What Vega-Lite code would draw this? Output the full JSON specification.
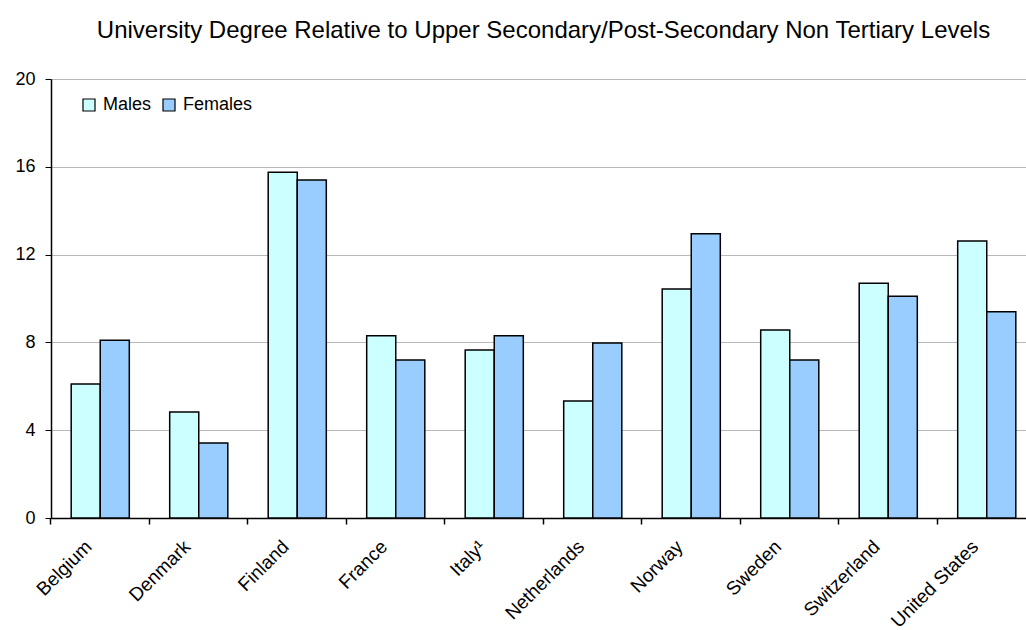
{
  "$schema": "https://vega.github.io/schema/vega-lite/v6.json",
  "autosize": {"type": "pad"},
  "padding": {"left": 14, "top": 19, "right": 0, "bottom": 0},
  "width": 985,
  "height": 439,
  "background": "white",
  "title": {
    "text": "University Degree Relative to Upper Secondary/Post-Secondary Non Tertiary Levels",
    "font": "Liberation Sans",
    "fontSize": 24,
    "fontWeight": "normal",
    "color": "black",
    "offset": 27
  },
  "config": {
    "view": {"stroke": null},
    "font": "Liberation Sans"
  },
  "data": {
    "values": [
      {"country": "Belgium", "sex": "Males", "value": 6.1},
      {"country": "Belgium", "sex": "Females", "value": 8.1},
      {"country": "Denmark", "sex": "Males", "value": 4.83},
      {"country": "Denmark", "sex": "Females", "value": 3.42},
      {"country": "Finland", "sex": "Males", "value": 15.75},
      {"country": "Finland", "sex": "Females", "value": 15.4},
      {"country": "France", "sex": "Males", "value": 8.3},
      {"country": "France", "sex": "Females", "value": 7.2},
      {"country": "Italy¹", "sex": "Males", "value": 7.65},
      {"country": "Italy¹", "sex": "Females", "value": 8.3},
      {"country": "Netherlands", "sex": "Males", "value": 5.33},
      {"country": "Netherlands", "sex": "Females", "value": 7.97},
      {"country": "Norway", "sex": "Males", "value": 10.43},
      {"country": "Norway", "sex": "Females", "value": 12.95},
      {"country": "Sweden", "sex": "Males", "value": 8.56},
      {"country": "Sweden", "sex": "Females", "value": 7.2},
      {"country": "Switzerland", "sex": "Males", "value": 10.7},
      {"country": "Switzerland", "sex": "Females", "value": 10.1},
      {"country": "United States", "sex": "Males", "value": 12.62},
      {"country": "United States", "sex": "Females", "value": 9.4}
    ]
  },
  "layer": [
    {
      "mark": {"type": "bar", "stroke": "black", "strokeWidth": 1.5},
      "encoding": {
        "x": {
          "field": "country",
          "type": "nominal",
          "sort": null,
          "scale": {"paddingInner": 0.41, "paddingOuter": 0.205},
          "axis": {
            "orient": "bottom",
            "title": null,
            "labelAngle": -45,
            "labelFontSize": 19,
            "labelColor": "black",
            "labelPadding": 19,
            "labelOffset": -18,
            "ticks": false,
            "domainColor": "black",
            "domainWidth": 1.5
          }
        },
        "xOffset": {"field": "sex", "type": "nominal", "sort": ["Males", "Females"], "scale": {"paddingInner": 0, "paddingOuter": 0}},
        "y": {
          "field": "value",
          "type": "quantitative",
          "scale": {"domain": [0, 20], "nice": false},
          "axis": {
            "title": null,
            "values": [0, 4, 8, 12, 16, 20],
            "labelFontSize": 18,
            "labelColor": "black",
            "labelPadding": 10,
            "tickColor": "black",
            "tickSize": 6,
            "domainColor": "black",
            "domainWidth": 1.5,
            "gridColor": "#b8b8b8",
            "gridWidth": 1.2
          }
        },
        "fill": {
          "field": "sex",
          "type": "nominal",
          "sort": ["Males", "Females"],
          "scale": {"domain": ["Males", "Females"], "range": ["#CCFFFF", "#99CCFF"]},
          "legend": {
            "title": null,
            "orient": "none",
            "legendX": 29,
            "legendY": 17,
            "direction": "horizontal",
            "symbolType": "square",
            "symbolSize": 144,
            "symbolStrokeColor": "black",
            "symbolStrokeWidth": 1.2,
            "labelFontSize": 18,
            "labelColor": "black",
            "labelOffset": 5,
            "columnPadding": 8
          }
        }
      }
    },
    {
      "mark": {"type": "bar", "opacity": 0},
      "encoding": {
        "x": {
          "field": "country",
          "type": "nominal",
          "sort": null,
          "axis": {
            "orient": "bottom",
            "title": null,
            "labels": false,
            "domain": false,
            "grid": false,
            "ticks": true,
            "tickColor": "black",
            "tickWidth": 1.5,
            "tickSize": 6,
            "bandPosition": -0.3475
          }
        },
        "y": {"field": "value", "type": "quantitative", "stack": null}
      }
    }
  ],
  "resolve": {"axis": {"x": "independent"}}
}
